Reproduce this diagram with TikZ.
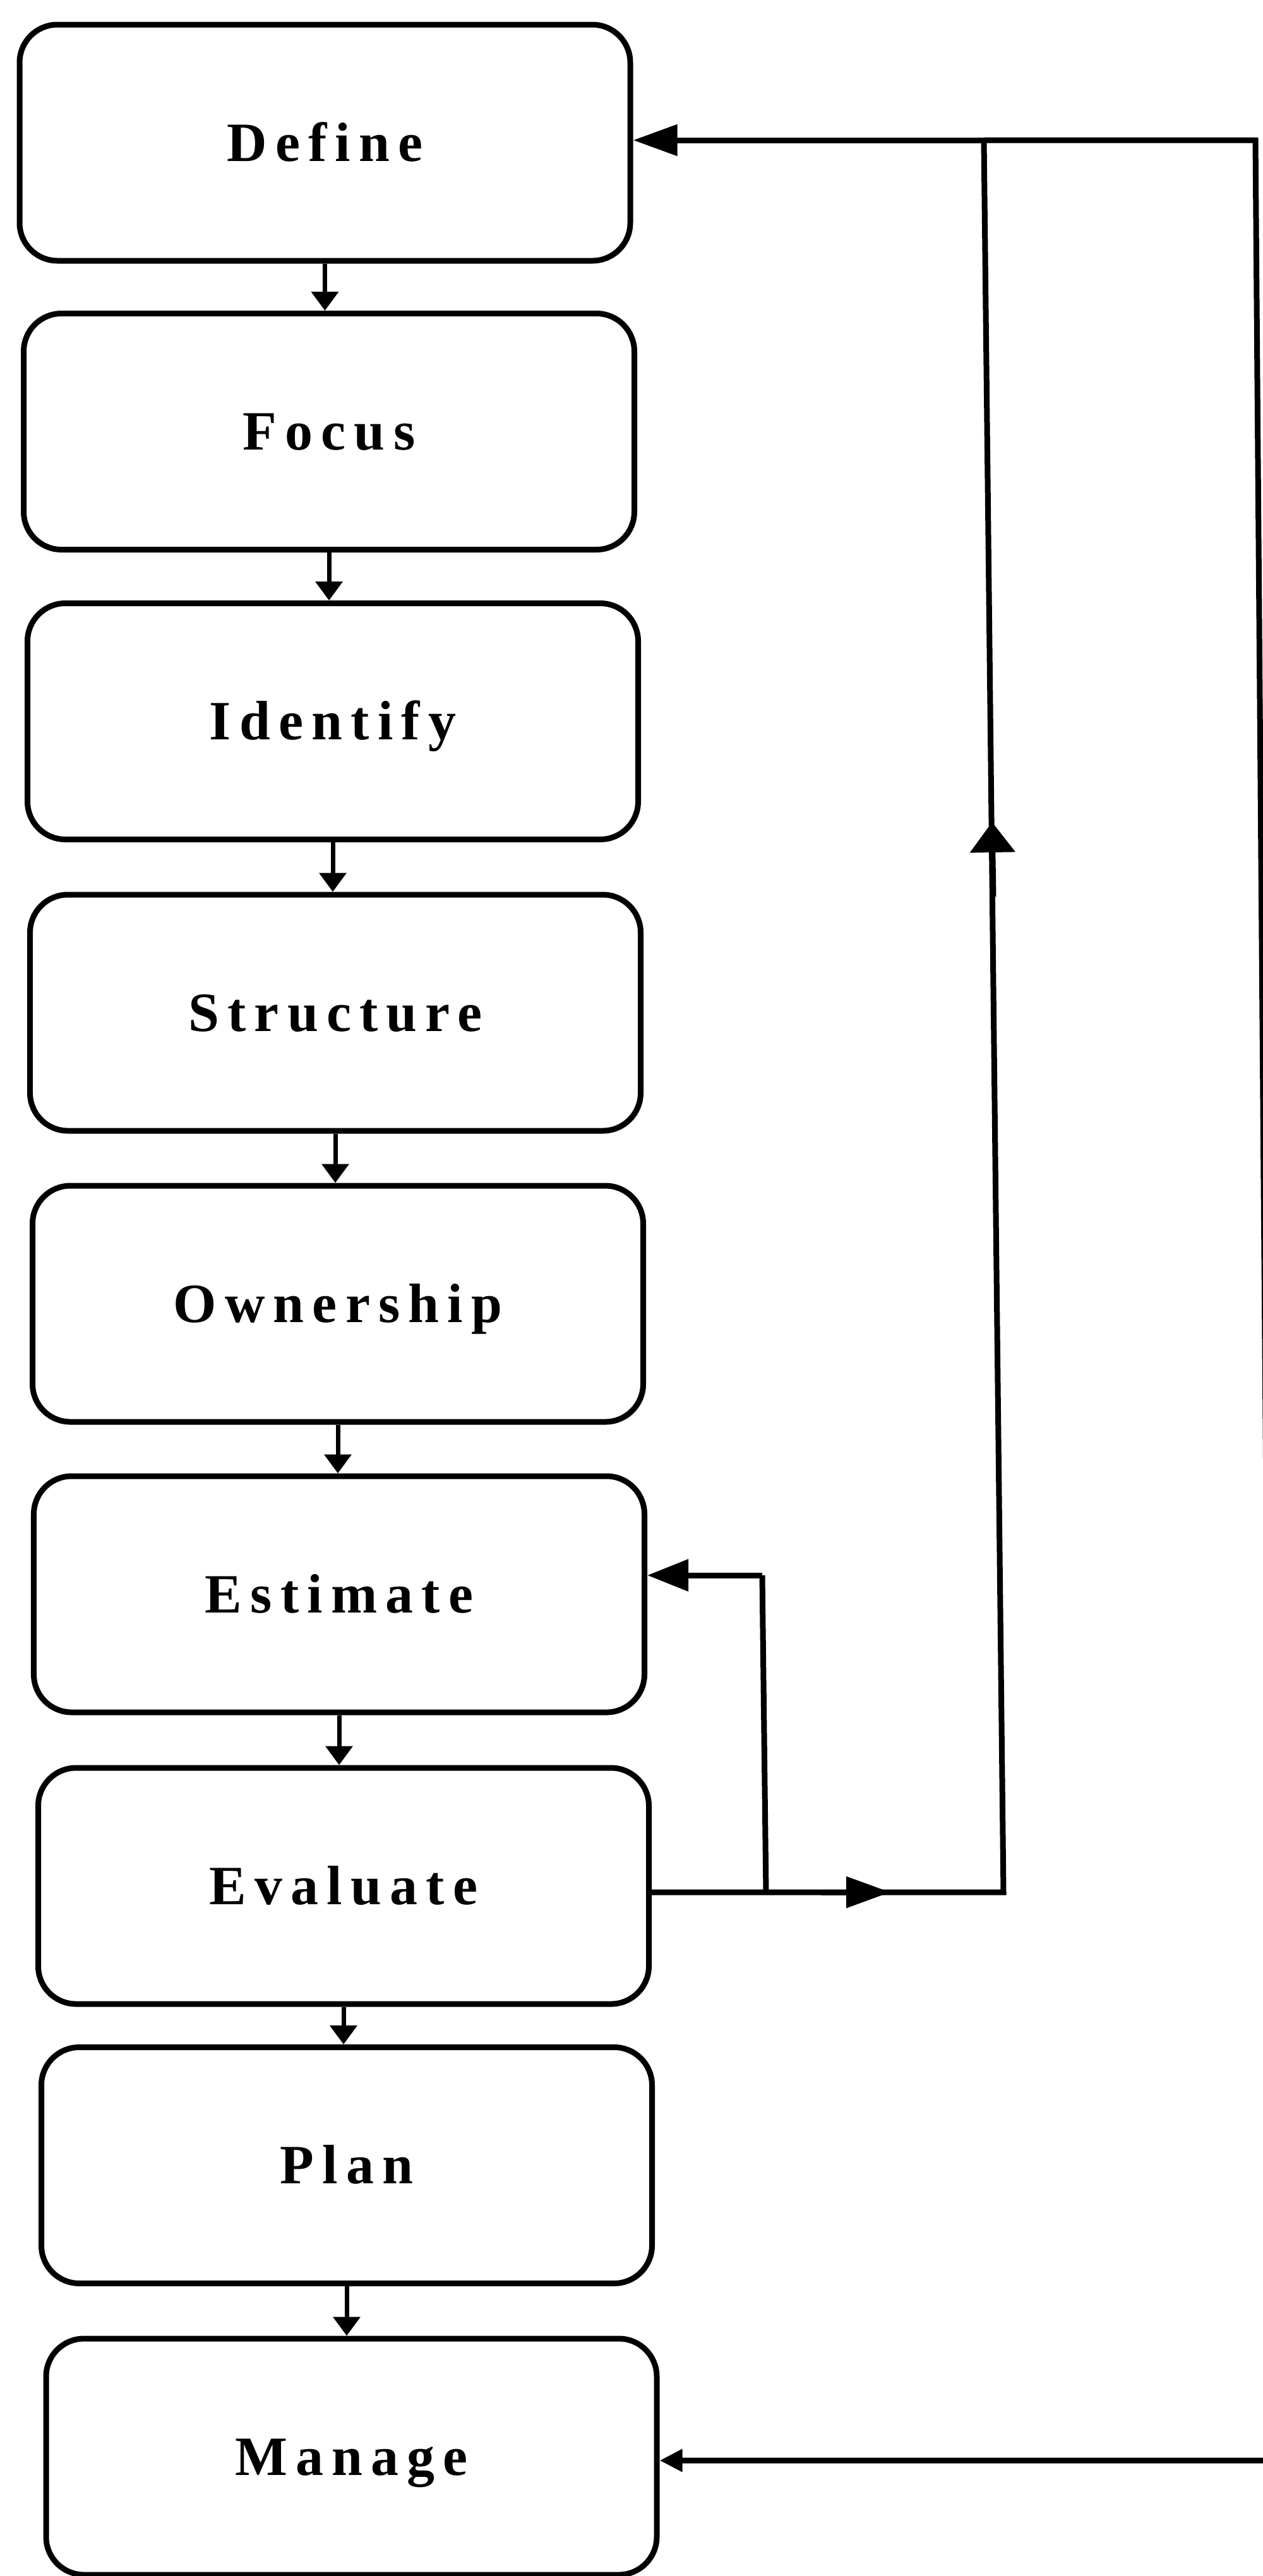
\documentclass[tikz,border=0pt]{standalone}
\usepackage{fontspec}
\newfontfamily\boxfont{Liberation Serif}[LetterSpace=15]
\usetikzlibrary{arrows.meta}
\tikzset{
  stage/.style={draw=black, line width=0.09cm, rounded corners=0.6cm,
    minimum width=9.67cm, minimum height=3.74cm, inner sep=0pt,
    text height=16.5pt, text depth=0pt,
    font=\boxfont\bfseries\fontsize{25}{30}\selectfont},
  flow/.style={line width=0.07cm, -{Triangle[length=0.30cm,width=0.42cm]}},
  loopline/.style={line width=0.09cm},
  bigtip/.style={-{Triangle[length=0.70cm,width=0.48cm]}},
  uptip/.style={-{Triangle[length=0.48cm,width=0.70cm]}},
  smalltip/.style={-{Triangle[length=0.36cm,width=0.34cm]}}
}
\begin{document}
\begin{tikzpicture}
\fill[white] (0,0) rectangle (19.99,-40.80);
\useasboundingbox (0,0) rectangle (19.99,-40.80);

\node[stage] (define)    at (5.145,-2.26)  {Define};
\node[stage] (focus)     at (5.21,-6.835)  {Focus};
\node[stage] (identify)  at (5.27,-11.425) {Identify};
\node[stage] (structure) at (5.31,-16.04)  {Structure};
\node[stage] (ownership) at (5.35,-20.65)  {Ownership};
\node[stage] (estimate)  at (5.37,-25.25)  {Estimate};
\node[stage] (evaluate)  at (5.44,-29.87)  {Evaluate};
\node[stage] (plan)      at (5.49,-34.295) {Plan};
\node[stage] (manage)    at (5.565,-38.91) {Manage};

\foreach \a/\b in {define/focus, focus/identify, identify/structure,
  structure/ownership, ownership/estimate, estimate/evaluate,
  evaluate/plan, plan/manage}
  \draw[flow] (\a.south) -- (\a.south |- \b.north);

% loop coordinates
\coordinate (tr)    at (19.88,-2.22);
\coordinate (br)    at (20.17,-38.97);
\coordinate (itop)  at (15.58,-2.22);
\coordinate (ibot)  at (15.89,-29.97);
\coordinate (iup)   at (15.71,-13.02);
\coordinate (iup0)  at (15.73,-14.20);
\coordinate (iarr)  at (14.10,-29.97);
\coordinate (iarr0) at (13.00,-29.97);
\coordinate (bbot)  at (12.13,-29.97);
\coordinate (btop)  at (12.07,-24.95);

% outer loop to Manage and Define
\draw[loopline, smalltip] (itop) -- (tr) -- (br) -- (br -| manage.east);
\draw[loopline, bigtip] (itop) -- (itop -| define.east);

% inner loop from Evaluate
\draw[loopline] (ibot -| evaluate.east) -- (ibot) -- (itop);
\draw[loopline, bigtip] (iarr0) -- (iarr);
\draw[loopline, uptip] (iup0) -- (iup);

% branch back to Estimate
\draw[loopline] (bbot) -- (btop);
\draw[loopline, -{Triangle[length=0.65cm,width=0.49cm]}] (btop) -- (btop -| estimate.east);
\end{tikzpicture}
\end{document}
